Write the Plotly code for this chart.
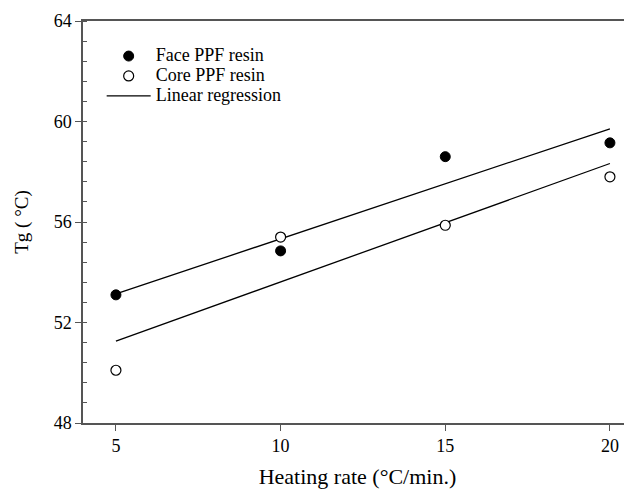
import numpy as np
import plotly.graph_objects as go

heating_rate = [5, 10, 15, 20]
face_tg = [53.1, 54.85, 58.6, 59.15]
core_tg = [50.1, 55.4, 55.87, 57.8]

x_ticks = [5, 10, 15, 20]
y_ticks = [48, 52, 56, 60, 64]

FONT = "Liberation Serif, Times New Roman, serif"

def fit(x, y):
    k, b = np.polyfit(x, y, 1)
    xs = np.array([min(x), max(x)], dtype=float)
    return xs, k * xs + b

def big(t):
    return '<span style="font-size:18px">' + t + '</span>'

fig = go.Figure()

fx, fy = fit(heating_rate, face_tg)
cx, cy = fit(heating_rate, core_tg)

fig.add_trace(go.Scatter(x=fx, y=fy, mode="lines", name=big("Linear regression"),
                         line=dict(color="black", width=1.3),
                         legendgroup="reg", legendrank=3))
fig.add_trace(go.Scatter(x=cx, y=cy, mode="lines", name=big("Linear regression"),
                         line=dict(color="black", width=1.3),
                         legendgroup="reg", showlegend=False))
fig.add_trace(go.Scatter(x=heating_rate, y=face_tg, mode="markers", name=big("Face PPF resin"),
                         marker=dict(symbol="circle", size=10, color="black",
                                     line=dict(color="black", width=1)),
                         legendrank=1))
fig.add_trace(go.Scatter(x=heating_rate, y=core_tg, mode="markers", name=big("Core PPF resin"),
                         marker=dict(symbol="circle", size=10, color="white",
                                     line=dict(color="black", width=1.2)),
                         legendrank=2))

fig.update_layout(
    width=624, height=481,
    margin=dict(l=75, r=0, t=13, b=66),
    paper_bgcolor="white", plot_bgcolor="white",
    font=dict(family=FONT, size=18, color="black"),
    showlegend=True,
    legend=dict(x=0.034, y=0.95, xanchor="left", yanchor="top",
                bgcolor="rgba(0,0,0,0)", font=dict(family=FONT, size=13),
                tracegroupgap=0, itemwidth=44),
    xaxis=dict(range=[4, 20.67], tickvals=x_ticks, ticktext=[str(v) for v in x_ticks],
               showgrid=False, zeroline=False, showline=True, linecolor="#555",
               linewidth=1.5, mirror=True, ticks="outside", ticklen=6, tickcolor="#555",
               tickwidth=1.2,
               title=dict(text="Heating rate (°C/min.)", font=dict(family=FONT, size=22),
                          standoff=14)),
    yaxis=dict(range=[48, 64], tickvals=y_ticks, ticktext=[str(v) for v in y_ticks],
               showgrid=False, zeroline=False, showline=True, linecolor="#555",
               linewidth=1.5, ticks="outside", ticklen=6, tickcolor="#555", tickwidth=1.2,
               minor=dict(tick0=48, dtick=0.8, ticks="inside", ticklen=4,
                          tickcolor="#555", tickwidth=1, showgrid=False),
               title=dict(text="Tg ( °C)", font=dict(family=FONT, size=19), standoff=20)),
)

fig.write_html("out.html")
